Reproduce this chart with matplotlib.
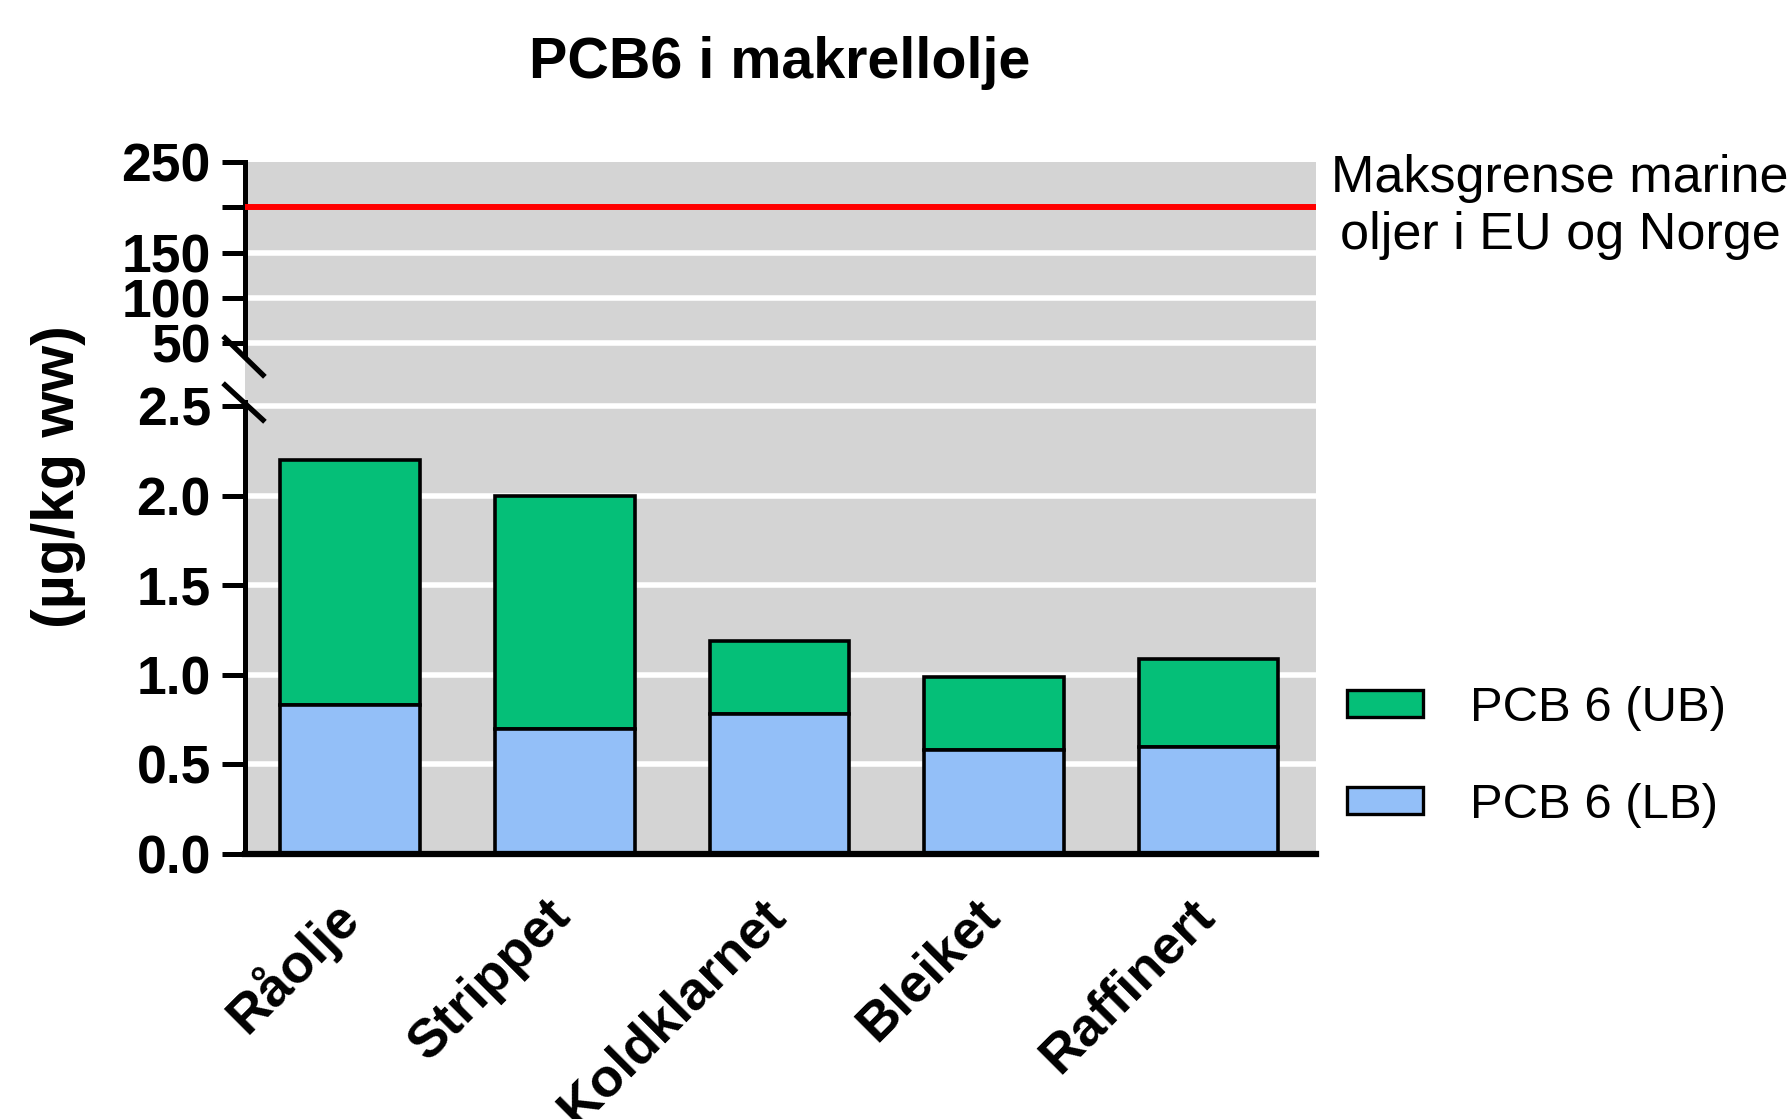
import matplotlib
matplotlib.use('Agg')
import matplotlib.pyplot as plt
from matplotlib.lines import Line2D
from matplotlib.transforms import ScaledTranslation
import numpy as np

# Data
categories = ['Råolje', 'Strippet', 'Koldklarnet', 'Bleiket', 'Raffinert']
pcb6_lb = [0.83, 0.70, 0.78, 0.58, 0.60]
pcb6_ub = [2.20, 2.00, 1.19, 0.99, 1.09]
limit_value = 200

upper_ticks = [50, 100, 150, 200, 250]
upper_ticklabels = ['50', '100', '150', '', '250']
upper_grid = [50, 100, 150]
lower_ticks = [0.0, 0.5, 1.0, 1.5, 2.0, 2.5]
lower_ticklabels = ['0.0', '0.5', '1.0', '1.5', '2.0', '2.5']

# Styles
GREEN = '#05BF78'
BLUE = '#93BFF8'
GRAY = '#D4D4D4'
W, H = 1790, 1119
TICK_FS = 38.5

plt.rcParams['font.family'] = ['Liberation Sans', 'DejaVu Sans']

fig = plt.figure(figsize=(W / 100, H / 100), dpi=100)

# axes placement in pixels
x0, x1 = 245, 1316
y_top, y_mid, y_bot = 162, 380, 854

def frac_box(xa, xb, ya, yb):
    return [xa / W, 1 - yb / H, (xb - xa) / W, (yb - ya) / H]

ax_up = fig.add_axes(frac_box(x0, x1, y_top, y_mid))
ax_lo = fig.add_axes(frac_box(x0, x1, y_mid, y_bot))

x = np.arange(len(categories))
width = 0.65
green_part = [u - l for u, l in zip(pcb6_ub, pcb6_lb)]

for ax in (ax_up, ax_lo):
    ax.set_facecolor(GRAY)
    ax.set_xlim(-0.49, 4.5)
    for s in ('top', 'right'):
        ax.spines[s].set_visible(False)
    ax.spines['left'].set_linewidth(3.6)
    ax.tick_params(axis='y', length=16.5, width=3.6, pad=8)

# upper segment
ax_up.set_ylim(9.2, 250)
ax_up.spines['bottom'].set_visible(False)
ax_up.spines['left'].set_bounds(35.7, 250)
ax_up.set_yticks(upper_ticks)
ax_up.set_yticklabels(upper_ticklabels, fontweight='bold', fontsize=TICK_FS)
ax_up.set_xticks([])
for g in upper_grid:
    ax_up.axhline(g, color='white', lw=4, zorder=1)
ax_up.axhline(limit_value, color='#FF0000', lw=4.3, zorder=3)
ax_up.text(1.228, limit_value, 'Maksgrense marine\noljer i EU og Norge',
           transform=ax_up.get_yaxis_transform(), ha='center', va='center',
           fontsize=37.5, linespacing=1.22, multialignment='center')

# lower segment
ax_lo.set_ylim(0, 2.648)
ax_lo.spines['left'].set_bounds(0, 2.525)
ax_lo.spines['bottom'].set_linewidth(4.5)
ax_lo.set_yticks(lower_ticks)
ax_lo.set_yticklabels(lower_ticklabels, fontweight='bold', fontsize=TICK_FS)
for g in lower_ticks[1:]:
    ax_lo.axhline(g, color='white', lw=4, zorder=1)

b_ub = ax_lo.bar(x, green_part, width, bottom=pcb6_lb, color=GREEN,
                 edgecolor='black', linewidth=2.6, zorder=2, label='PCB 6 (UB)')
b_lb = ax_lo.bar(x, pcb6_lb, width, color=BLUE,
                 edgecolor='black', linewidth=2.6, zorder=2, label='PCB 6 (LB)')

ax_lo.set_xticks(x)
ax_lo.set_xticklabels(categories, rotation=45, ha='right', va='top',
                      rotation_mode='anchor', fontweight='bold', fontsize=39)
ax_lo.tick_params(axis='x', length=0, pad=22)
shift = ScaledTranslation(-20 / 100, -5 / 100, fig.dpi_scale_trans)
for lab in ax_lo.get_xticklabels():
    lab.set_transform(lab.get_transform() + shift)

# break marks
for (xa, ya, xb, yb) in [(225, 338, 263, 375), (225, 385, 263, 420)]:
    fig.add_artist(Line2D([xa / W, xb / W], [1 - ya / H, 1 - yb / H],
                          color='black', lw=3.8, transform=fig.transFigure))

# title and y label
fig.text(780 / W, 1 - 63 / H, 'PCB6 i makrellolje', ha='center', va='center',
         fontsize=41.3, fontweight='bold')
fig.text(59 / W, 1 - 477 / H, '(µg/kg ww)', ha='center', va='center',
         rotation=90, fontsize=42.5, fontweight='bold')

# legend
leg = fig.legend(handles=[b_ub, b_lb], labels=['PCB 6 (UB)', 'PCB 6 (LB)'],
                 loc='center left', bbox_to_anchor=(1347 / W, 1 - 757 / H),
                 frameon=False, fontsize=35.3, borderpad=0, handlelength=1.55,
                 handleheight=0.48, handletextpad=0.95, labelspacing=1.05,
                 borderaxespad=0)
for p in leg.get_patches():
    p.set_linewidth(2.4)

fig.savefig('out.png', dpi=100)
plt.close(fig)
